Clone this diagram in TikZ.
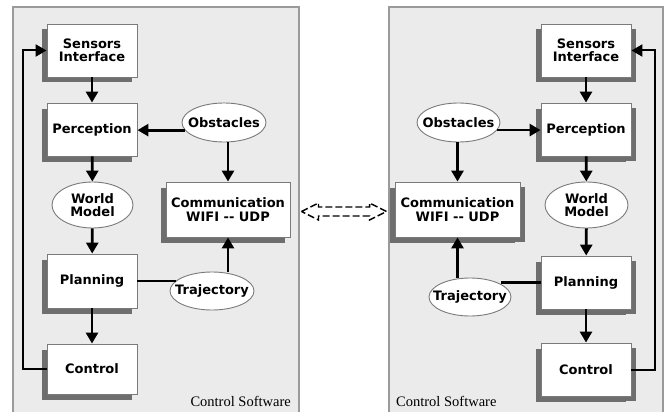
\documentclass[tikz,border=0pt]{standalone}
\usepackage{fontspec}
\setmainfont{Liberation Serif}
\newfontfamily\boxfont{DejaVu Sans}
\usetikzlibrary{arrows.meta,shadows,calc,shapes.geometric}
\definecolor{panelfill}{HTML}{EBEBEB}
\definecolor{panelline}{HTML}{9A9A9A}
\definecolor{shadowgray}{HTML}{6E6E6E}
\definecolor{boxline}{HTML}{7A7A7A}
\tikzset{
  blockL/.style={draw=boxline, line width=0.9pt, fill=white, minimum width=90pt, minimum height=53pt,
    inner sep=0pt, align=center, font=\boxfont\bfseries\fontsize{13}{14.5}\selectfont,
    general shadow={fill=shadowgray, shadow xshift=-5.5pt, shadow yshift=-5.5pt}},
  blockR/.style={blockL, general shadow={fill=shadowgray, shadow xshift=5pt, shadow yshift=-5pt}},
  dataell/.style={ellipse, draw=boxline, line width=0.9pt, fill=white, inner sep=-20pt, align=center,
    font=\boxfont\bfseries\fontsize{13}{14.5}\selectfont},
  flow/.style={line width=2.8pt, -{Triangle[length=11pt,width=12pt]}},
  plain/.style={line width=2.8pt},
  feedback/.style={line width=2pt, -{Triangle[length=11pt,width=12pt]}},
  panel/.style={fill=panelfill},
  panelborder/.style={draw=panelline, line width=1.8pt},
  caption/.style={font=\fontsize{14.5}{16}\selectfont, inner sep=0pt}
}
\begin{document}
\begin{tikzpicture}[x=1pt,y=-1pt]
\useasboundingbox (0,0) rectangle (664,412);
% panels
\fill[panel] (13,7) rectangle (299,412);
\draw[panelborder] (13,412) -- (13,7) -- (299,7) -- (299,412);
\fill[panel] (389,7) rectangle (663,412);
\draw[panelborder] (389,412) -- (389,7) -- (663,7) -- (663,412);

% ---------- left panel ----------
\node[blockL] (Lsens) at (92,50.5) {Sensors\\[-1pt]Interface};
\node[blockL] (Lperc) at (92,129.5) {Perception};
\node[dataell, minimum width=84pt, minimum height=39pt] (Lobs) at (224,122.5) {Obstacles};
\node[blockL, minimum width=124pt, minimum height=55pt] (Lcomm) at (228,209.5) {Communication\\[-1pt]WIFI -- UDP};
\node[dataell, minimum width=81pt, minimum height=46pt] (Lworld) at (92.5,205) {World\\[-2pt]Model};
\node[blockL, minimum height=54pt] (Lplan) at (92,281) {Planning};
\node[dataell, minimum width=84pt, minimum height=38pt] (Ltraj) at (212,291) {Trajectory};
\node[blockL, minimum height=50pt] (Lctrl) at (92,369) {Control};
\node[caption, anchor=east] (Lcap) at (291,401) {Control Software};
\coordinate (Lfb) at (23,0);

\draw[flow] (Lsens) -- (Lperc);
\draw[flow] (Lperc) -- (Lworld);
\draw[flow] (Lworld) -- (Lplan);
\draw[flow] (Lplan) -- (Lctrl);
\draw[flow] (Lobs.191) -- (Lobs.191 -| Lperc.east);
\draw[flow] (Lcomm.north |- Lobs.south) -- (Lcomm.north);
\draw[plain] (Lplan.east) -- (Lplan.east -| Ltraj.164);
\draw[flow] (Lcomm.south |- Ltraj.north) -- (Lcomm.south);
\draw[feedback] (Lctrl.west) -- (Lctrl.west -| Lfb) |- (Lsens.west);

% ---------- right panel ----------
\node[blockR] (Rsens) at (586,50.5) {Sensors\\[-1pt]Interface};
\node[blockR] (Rperc) at (586,129.5) {Perception};
\node[dataell, minimum width=83pt, minimum height=39pt] (Robs) at (458.5,122.5) {Obstacles};
\node[blockR, minimum width=125pt, minimum height=55pt] (Rcomm) at (457.5,209.5) {Communication\\[-1pt]WIFI -- UDP};
\node[dataell, minimum width=83pt, minimum height=46pt] (Rworld) at (586.5,205) {World\\[-2pt]Model};
\node[blockR] (Rplan) at (586,282.5) {Planning};
\node[dataell, minimum width=82pt, minimum height=38pt] (Rtraj) at (470,297) {Trajectory};
\node[blockR] (Rctrl) at (586,369.5) {Control};
\node[caption, anchor=west] (Rcap) at (396,401) {Control Software};
\coordinate (Rfb) at (655,0);

\draw[flow] (Rsens) -- (Rperc);
\draw[flow] (Rperc) -- (Rworld);
\draw[flow] (Rworld) -- (Rplan);
\draw[flow] (Rplan) -- (Rctrl);
\draw[flow] (Robs.349) -- (Robs.349 -| Rperc.west);
\draw[flow] (Rcomm.north |- Robs.south) -- (Rcomm.north);
\draw[plain] (Rplan.west) -- (Rplan.west -| Rtraj.23);
\draw[flow] (Rcomm.south |- Rtraj.north) -- (Rcomm.south);
\draw[feedback] (Rctrl.east) -- (Rctrl.east -| Rfb) |- (Rsens.east);

% ---------- dashed double arrow between the two communication blocks ----------
\coordinate (dl) at ($(Lcomm.east)+(11,2)$);
\coordinate (dr) at ($(Rcomm.west)+(-8,2)$);
\draw[line width=1.4pt, dash pattern=on 7pt off 3pt, line join=miter]
  (dl) -- ($(dl)+(17,-8.5)$) -- ($(dl)+(17,-4.5)$) -- ($(dr)+(-17,-4.5)$) -- ($(dr)+(-17,-8.5)$)
  -- (dr) -- ($(dr)+(-17,8.5)$) -- ($(dr)+(-17,4.5)$) -- ($(dl)+(17,4.5)$) -- ($(dl)+(17,8.5)$) -- cycle;
\end{tikzpicture}
\end{document}
